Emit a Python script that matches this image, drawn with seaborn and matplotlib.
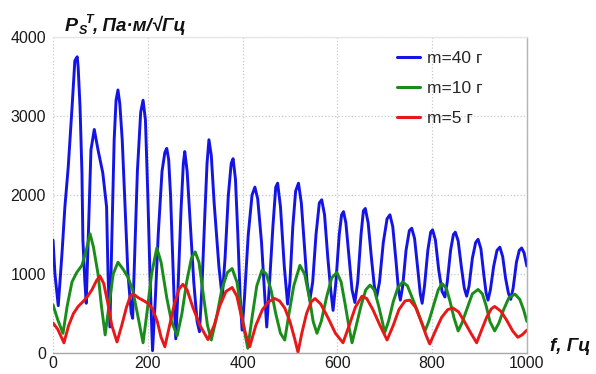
import numpy as np
import pandas as pd
import matplotlib
matplotlib.use("Agg")
import matplotlib.pyplot as plt
import seaborn as sns

# values (f in Hz, amplitude)
f_40 = [0, 4, 11, 19, 25, 32, 40, 46, 51, 53, 57, 61, 63, 67, 70, 72, 74, 80, 87, 95, 105, 113, 116, 120,
        124, 129, 133, 137, 141, 146, 152, 158, 165, 168, 172, 178, 185, 190, 195, 200, 205, 210, 216, 222,
        230, 236, 240, 244, 248, 252, 256, 259, 263, 270, 275, 278, 283, 290, 297, 304, 309, 314, 320, 325,
        329, 334, 340, 350, 357, 363, 370, 376, 380, 385, 390, 395, 399, 404, 412, 420, 426, 432, 440, 446,
        451, 456, 464, 470, 474, 480, 488, 495, 500, 506, 512, 518, 524, 530, 536, 542, 548, 555, 562, 567,
        573, 580, 586, 591, 597, 604, 609, 613, 618, 625, 631, 637, 643, 650, 655, 659, 665, 672, 678, 683,
        689, 697, 705, 711, 717, 724, 729, 733, 738, 745, 752, 757, 763, 770, 775, 779, 784, 791, 797, 801,
        807, 814, 821, 827, 832, 839, 845, 849, 855, 862, 868, 873, 878, 885, 892, 897, 903, 909, 914, 918,
        923, 930, 937, 943, 949, 955, 961, 966, 971, 978, 984, 989, 994, 1000]
p_40 = [1430, 1000, 600, 1270, 1850, 2350, 3100, 3700, 3750, 3620, 3110, 2280, 1430, 920, 630, 1000, 1400, 2570,
        2830, 2570, 2280, 1850, 1010, 330, 1430, 2700, 3200, 3330, 3150, 2700, 1850, 1010, 510, 440, 1200,
        2300, 3050, 3200, 2950, 2000, 900, 30, 700, 1500, 2300, 2540, 2590, 2450, 2000, 1300, 600, 180, 700,
        1800, 2400, 2550, 2300, 1600, 900, 400, 270, 800, 1700, 2400, 2700, 2500, 1900, 1100, 700, 1200,
        2000, 2400, 2460, 2200, 1500, 700, 290, 700, 1500, 2000, 2100, 1950, 1400, 800, 330, 800, 1600, 2100,
        2150, 1850, 1100, 620, 900, 1600, 2050, 2150, 1900, 1400, 900, 670, 900, 1500, 1900, 1940, 1750,
        1200, 800, 540, 900, 1500, 1750, 1790, 1650, 1200, 800, 640, 900, 1500, 1800, 1830, 1650, 1200, 850,
        710, 900, 1400, 1700, 1750, 1600, 1150, 800, 670, 850, 1300, 1550, 1580, 1450, 1050, 750, 630, 850,
        1300, 1530, 1560, 1430, 1050, 780, 710, 900, 1300, 1500, 1530, 1420, 1080, 820, 720, 850, 1200, 1400,
        1440, 1320, 1000, 760, 670, 800, 1100, 1300, 1340, 1220, 950, 760, 680, 820, 1150, 1300, 1330, 1270,
        1100]

f_10 = [0, 10, 21, 30, 40, 50, 61, 70, 78, 85, 95, 102, 110, 118, 127, 137, 148, 158, 168, 178, 190, 198, 208,
        219, 228, 240, 250, 262, 272, 282, 292, 300, 308, 318, 326, 334, 345, 356, 368, 378, 388, 398, 405,
        411, 420, 430, 441, 450, 460, 470, 480, 489, 498, 508, 521, 531, 541, 549, 557, 566, 577, 588, 599,
        608, 617, 624, 631, 640, 650, 660, 669, 678, 687, 693, 700, 708, 718, 728, 738, 748, 758, 768, 777,
        785, 793, 803, 813, 821, 830, 838, 846, 855, 863, 873, 885, 897, 906, 914, 922, 932, 941, 951, 962,
        975, 985, 993, 1000]
p_10 = [610, 420, 250, 600, 900, 1020, 1110, 1300, 1510, 1350, 1000, 600, 230, 600, 1000, 1150, 1060, 960, 800,
        500, 130, 500, 1000, 1330, 1150, 700, 400, 220, 500, 900, 1200, 1280, 1150, 700, 350, 165, 450, 800,
        1020, 1070, 900, 500, 250, 60, 450, 850, 1050, 1000, 800, 500, 250, 165, 500, 850, 1110, 1000, 700,
        400, 250, 400, 700, 950, 1020, 900, 600, 350, 130, 350, 600, 800, 860, 800, 600, 450, 260, 400, 650,
        830, 900, 850, 700, 550, 400, 280, 400, 600, 800, 880, 820, 650, 450, 280, 380, 550, 750, 805, 750,
        600, 400, 280, 380, 550, 700, 745, 680, 550, 400]

f_5 = [0, 10, 23, 33, 43, 53, 63, 72, 82, 92, 99, 107, 115, 124, 135, 145, 155, 163, 169, 180, 192, 200, 210,
       220, 228, 236, 246, 256, 266, 274, 283, 295, 310, 327, 340, 352, 365, 378, 388, 398, 406, 415, 428, 442,
       455, 468, 478, 489, 500, 510, 517, 525, 535, 545, 553, 565, 580, 596, 612, 625, 638, 652, 662, 675, 690,
       705, 718, 730, 743, 753, 765, 777, 787, 795, 807, 820, 833, 844, 856, 868, 882, 894, 905, 915, 925, 932,
       945, 957, 970, 981, 990, 1000]
p_5 = [380, 300, 130, 350, 500, 590, 650, 710, 800, 920, 975, 880, 650, 350, 140, 350, 580, 720, 750, 700, 660,
       630, 560, 400, 200, 80, 350, 620, 810, 870, 800, 580, 350, 170, 350, 600, 780, 830, 720, 450, 250, 80,
       350, 550, 650, 690, 660, 570, 400, 180, 10, 250, 500, 650, 690, 620, 450, 250, 130, 350, 580, 720, 690,
       550, 350, 165, 350, 550, 660, 670, 580, 400, 230, 115, 280, 450, 550, 570, 520, 400, 250, 130, 300, 450,
       560, 590, 530, 420, 280, 200, 230, 290]

labels = ["m=40 г", "m=10 г", "m=5 г"]
colors = ["#1414e6", "#1a8c1a", "#e81818"]
x_ticks = [0, 200, 400, 600, 800, 1000]
y_ticks = [0, 1000, 2000, 3000, 4000]

sns.set_style("white")
plt.rcParams['font.family'] = ['Liberation Sans', 'DejaVu Sans']

fig = plt.figure(figsize=(5.96, 3.74), dpi=100)
ax = fig.add_axes([0.089, 0.056, 0.795, 0.845])

for fx, py, lab, col in zip([f_40, f_10, f_5], [p_40, p_10, p_5], labels, colors):
    df = pd.DataFrame({"f": fx, "p": py})
    sns.lineplot(data=df, x="f", y="p", color=col, linewidth=2.1, label=lab,
                 sort=False, estimator=None, ax=ax, solid_joinstyle="round")

ax.set_xlim(0, 1000)
ax.set_ylim(0, 4000)
ax.set_xticks(x_ticks)
ax.set_yticks(y_ticks)
ax.set_xlabel("")
ax.set_ylabel("")
ax.tick_params(axis="both", length=0, labelsize=11.5, colors="#1a1a1a")
ax.tick_params(axis="y", pad=5)
ax.tick_params(axis="x", pad=2)
ax.grid(True, color="#c8c8c8", linestyle=":", linewidth=0.9)

ax.spines["left"].set_visible(False)
ax.spines["top"].set_color("#e6e6e6")
ax.spines["right"].set_color("#b4b4b4")
ax.spines["bottom"].set_color("#a8a8a8")
for s in ax.spines.values():
    s.set_linewidth(1.0)

leg = ax.legend(loc="upper left", bbox_to_anchor=(0.726, 0.955), frameon=False, fontsize=12.5,
                handlelength=1.35, handletextpad=0.35, labelspacing=0.85, borderpad=0, borderaxespad=0)
for line in leg.get_lines():
    line.set_linewidth(2.2)

# y axis title built from pieces: P, subscript S, superscript T, units
fig.canvas.draw()
renderer = fig.canvas.get_renderer()
bold_it = dict(fontweight="bold", fontstyle="italic", color="#111111")
inv = fig.transFigure.inverted()

t_p = fig.text(65 / 596, 1 - 31 / 374, "P", fontsize=14, va="baseline", **bold_it)
bb = t_p.get_window_extent(renderer)
x_next = inv.transform((bb.x1 + 1, 0))[0]
fig.text(x_next, 1 - 34 / 374, "S", fontsize=9, va="baseline", **bold_it)
t_t = fig.text(x_next + 6 / 596, 1 - 23 / 374, "T", fontsize=9, va="baseline", **bold_it)
bb = t_t.get_window_extent(renderer)
x_next = inv.transform((bb.x1, 0))[0]
fig.text(x_next, 1 - 31 / 374, ", Па·м/√Гц", fontsize=13.5, va="baseline", **bold_it)

fig.text(550 / 596, 1 - 351 / 374, "f, Гц", fontsize=13.5, va="baseline", **bold_it)

fig.savefig("out.png", dpi=100)
